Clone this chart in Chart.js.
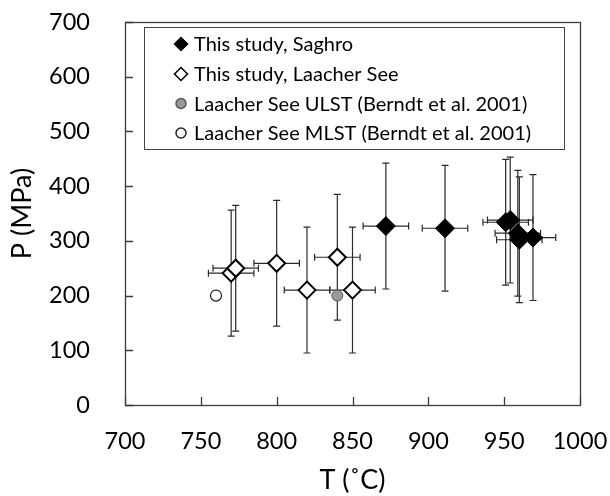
<!DOCTYPE html>
<html><head><meta charset="utf-8">
<script src="https://cdn.jsdelivr.net/npm/chart.js@4.4.1/dist/chart.umd.min.js"></script>
<style>html,body{margin:0;padding:0;background:#fff;}</style>
</head><body>
<canvas id="c" width="610" height="496"></canvas>
<script>
// ---- data ----
const seriesNames = [
  'This study, Saghro',
  'This study, Laacher See',
  'Laacher See ULST (Berndt et al. 2001)',
  'Laacher See MLST (Berndt et al. 2001)'
];
const saghroT = [872, 911, 951, 954, 959, 960, 969];
const saghroP = [327, 323, 334, 338, 314, 302, 306];
const saghroTErr = [15, 15, 15, 15, 15, 15, 15];
const saghroPErr = [115, 115, 115, 115, 115, 115, 115];

const laacherT = [770, 773, 800, 820, 840, 850];
const laacherP = [241, 250, 259, 210, 270, 210];
const laacherTErr = [15, 15, 15, 15, 15, 15];
const laacherPErr = [115, 115, 115, 115, 115, 115];

const ulstT = [840];
const ulstP = [200];
const mlstT = [760];
const mlstP = [200];

const xTicks = [700, 750, 800, 850, 900, 950, 1000];
const yTicks = [0, 100, 200, 300, 400, 500, 600, 700];
const xTitle = 'T (\u02DAC)';
const yTitle = 'P (MPa)';

function pts(xs, ys, ex, ey) {
  return xs.map((x, i) => ({x: x, y: ys[i], ex: ex ? ex[i] : 0, ey: ey ? ey[i] : 0}));
}

const FONT = 'Lato';
const axisCol = '#3c3c3c';

const errorBars = {
  id: 'errorBars',
  beforeDatasetsDraw(chart) {
    const ctx = chart.ctx, xs = chart.scales.x, ys = chart.scales.y;
    ctx.save();
    ctx.lineWidth = 1.2;
    ctx.strokeStyle = '#2a2a2a';
    const cap = 3.5;
    chart.data.datasets.forEach(ds => {
      ds.data.forEach(p => {
        const cx = xs.getPixelForValue(p.x), cy = ys.getPixelForValue(p.y);
        ctx.beginPath();
        if (p.ey) {
          const t = ys.getPixelForValue(p.y + p.ey), b = ys.getPixelForValue(p.y - p.ey);
          ctx.moveTo(cx, t); ctx.lineTo(cx, b);
          ctx.moveTo(cx - cap, t); ctx.lineTo(cx + cap, t);
          ctx.moveTo(cx - cap, b); ctx.lineTo(cx + cap, b);
        }
        if (p.ex) {
          const l = xs.getPixelForValue(p.x - p.ex), r = xs.getPixelForValue(p.x + p.ex);
          ctx.moveTo(l, cy); ctx.lineTo(r, cy);
          ctx.moveTo(l, cy - cap); ctx.lineTo(l, cy + cap);
          ctx.moveTo(r, cy - cap); ctx.lineTo(r, cy + cap);
        }
        ctx.stroke();
      });
    });
    ctx.restore();
  }
};

const frame = {
  id: 'frame',
  afterDraw(chart) {
    const ctx = chart.ctx, a = chart.chartArea, xs = chart.scales.x, ys = chart.scales.y;
    ctx.save();
    ctx.strokeStyle = axisCol;
    ctx.lineWidth = 1.3;
    ctx.strokeRect(Math.round(a.left) + 0.5, Math.round(a.top) + 0.5, Math.round(a.right - a.left), Math.round(a.bottom - a.top));
    ctx.beginPath();
    const tl = 8;
    xs.ticks.forEach(t => {
      const px = Math.round(xs.getPixelForValue(t.value)) + 0.5;
      ctx.moveTo(px, a.bottom); ctx.lineTo(px, a.bottom - tl);
    });
    ys.ticks.forEach(t => {
      const py = Math.round(ys.getPixelForValue(t.value)) + 0.5;
      ctx.moveTo(a.left, py); ctx.lineTo(a.left + tl, py);
    });
    ctx.stroke();

    // legend box
    const L = {x: 144.5, y: 27.5, w: 420, h: 122};
    ctx.lineWidth = 1;
    ctx.strokeStyle = '#444';
    ctx.fillStyle = '#fff';
    ctx.fillRect(L.x, L.y, L.w, L.h);
    ctx.strokeRect(L.x, L.y, L.w, L.h);
    const rowY = [44, 74, 103.5, 133];
    ctx.font = '20px ' + FONT;
    ctx.textBaseline = 'middle';
    ctx.textAlign = 'left';
    chart.data.datasets.forEach((ds, i) => {
      const mx = 181, my = rowY[i];
      ctx.beginPath();
      ctx.lineWidth = 1.5;
      if (ds.pointStyle === 'rectRot') {
        const r = 6.5;
        ctx.moveTo(mx - r, my); ctx.lineTo(mx, my - r); ctx.lineTo(mx + r, my); ctx.lineTo(mx, my + r); ctx.closePath();
      } else {
        ctx.arc(mx, my, 5, 0, Math.PI * 2);
      }
      ctx.fillStyle = ds.backgroundColor; ctx.fill();
      ctx.strokeStyle = ds.borderColor; ctx.stroke();
      ctx.fillStyle = '#000';
      ctx.fillText(ds.label, 194, my + 1);
    });
    ctx.restore();
  }
};

new Chart(document.getElementById('c'), {
  type: 'scatter',
  data: {
    datasets: [
      {label: seriesNames[0], data: pts(saghroT, saghroP, saghroTErr, saghroPErr), pointStyle: 'rectRot', pointRadius: 9.5, backgroundColor: '#000', borderColor: '#000', borderWidth: 1},
      {label: seriesNames[1], data: pts(laacherT, laacherP, laacherTErr, laacherPErr), pointStyle: 'rectRot', pointRadius: 8.5, backgroundColor: '#fff', borderColor: '#000', borderWidth: 2},
      {label: seriesNames[2], data: pts(ulstT, ulstP), pointStyle: 'circle', pointRadius: 5.5, backgroundColor: '#999', borderColor: '#555', borderWidth: 1},
      {label: seriesNames[3], data: pts(mlstT, mlstP), pointStyle: 'circle', pointRadius: 5.5, backgroundColor: '#fff', borderColor: '#222', borderWidth: 1.2}
    ]
  },
  options: {
    responsive: false,
    animation: false,
    devicePixelRatio: 1,
    layout: {padding: {top: 22, right: 30, left: 0, bottom: 0}},
    plugins: {legend: {display: false}, tooltip: {enabled: false}},
    scales: {
      x: {
        type: 'linear', min: 700, max: 1000,
        afterBuildTicks: s => { s.ticks = xTicks.map(v => ({value: v})); },
        afterFit: s => { s.height = 91; s.paddingLeft = 0; s.paddingRight = 0; },
        grid: {display: false, drawTicks: false},
        border: {display: false},
        ticks: {padding: 22, color: '#000', font: {family: FONT, size: 23.5}, callback: v => String(v)},
        title: {display: true, text: xTitle, color: '#000', font: {family: FONT, size: 27}, padding: {top: 0, bottom: 0}}
      },
      y: {
        type: 'linear', min: 0, max: 700,
        afterBuildTicks: s => { s.ticks = yTicks.map(v => ({value: v})); },
        afterFit: s => { s.width = 125; s.paddingTop = 0; s.paddingBottom = 0; },
        grid: {display: false, drawTicks: false},
        border: {display: false},
        ticks: {padding: 35, color: '#000', font: {family: FONT, size: 23.5}, callback: v => String(v)},
        title: {display: true, text: yTitle, color: '#000', font: {family: FONT, size: 27}, padding: {top: 6, bottom: 0}}
      }
    }
  },
  plugins: [errorBars, frame]
});
</script>
</body></html>
